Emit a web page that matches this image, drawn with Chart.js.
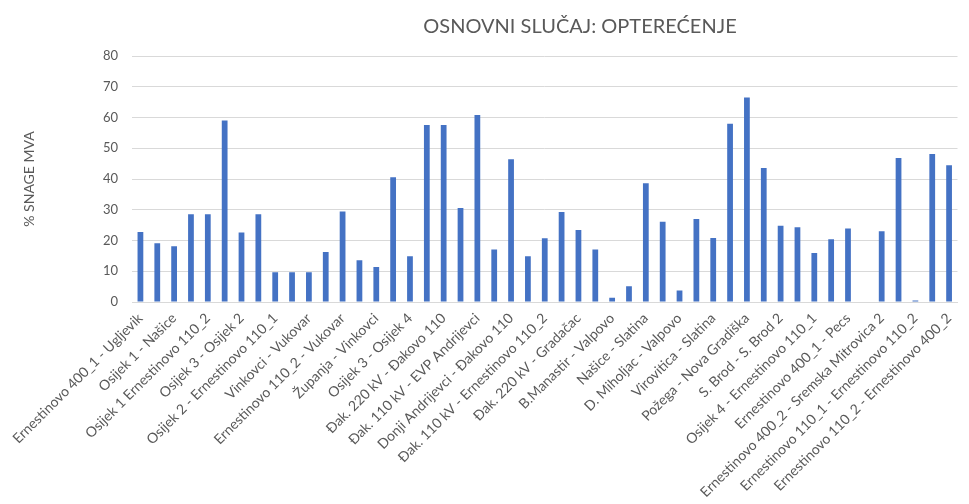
<!DOCTYPE html>
<html>
<head>
<meta charset="utf-8">
<script src="https://cdn.jsdelivr.net/npm/chart.js@4.4.1/dist/chart.umd.min.js"></script>
<style>
    html, body { margin: 0; padding: 0; background: #fff; }
    #wrap { position: relative; width: 969px; height: 504px; }
    #naslov {
        position: absolute; top: 12px; left: 380px; width: 400px;
        text-align: center; font-family: Lato, sans-serif; font-size: 20px;
        color: #595959; line-height: 26px;
    }
</style>
</head>
<body>
<div id="wrap">
    <div id="naslov">OSNOVNI SLUČAJ: OPTEREĆENJE</div>
    <canvas id="opterecenje" width="969" height="504"></canvas>
</div>
<script>
// nazivi vodova (samo svaki drugi je ispisan na osi)
const prikazaniNazivi = [
    'Ernestinovo 400_1 - Ugljevik', 'Osijek 1 - Našice', 'Osijek 1 Ernestinovo 110_2',
    'Osijek 3 - Osijek 2', 'Osijek 2 - Ernestinovo 110_1', 'Vinkovci - Vukovar',
    'Ernestinovo 110_2 - Vukovar', 'Županja - Vinkovci', 'Osijek 3 - Osijek 4',
    'Đak. 220 kV - Đakovo 110', 'Đak. 110 kV - EVP Andrijevci', 'Donji Andrijevci - Đakovo 110',
    'Đak. 110 kV - Ernestinovo 110_2', 'Đak. 220 kV - Gradačac', 'B.Manastir - Valpovo',
    'Našice - Slatina', 'D. Miholjac - Valpovo', 'Virovitica - Slatina',
    'Požega - Nova Gradiška', 'S. Brod - S. Brod 2', 'Osijek 4 - Ernestinovo 110_1',
    'Ernestinovo 400_1 - Pecs', 'Ernestinovo 400_2 - Sremska Mitrovica 2',
    'Ernestinovo 110_1 - Ernestinovo 110_2', 'Ernestinovo 110_2 - Ernestinovo 400_2'
];

// opterećenje u % snage (MVA)
const opterecenje = [
    22.8, 19.1, 18.1, 28.5, 28.5, 59.0, 22.6, 28.5, 9.7, 9.7,
    9.7, 16.3, 29.4, 13.6, 11.4, 40.6, 14.9, 57.6, 57.6, 30.6,
    60.8, 17.1, 46.4, 14.9, 20.7, 29.3, 23.4, 17.1, 1.4, 5.1,
    38.6, 26.1, 3.7, 27.0, 20.8, 58.0, 66.5, 43.6, 24.8, 24.3,
    15.9, 20.4, 23.9, 0, 23.0, 46.8, 0.5, 48.1, 44.5
];

const yTicks = [0, 10, 20, 30, 40, 50, 60, 70, 80];

const labels = opterecenje.map((v, i) => i % 2 === 0 ? prikazaniNazivi[i / 2] : '');

const sivo = '#595959';

new Chart(document.getElementById('opterecenje'), {
    type: 'bar',
    data: {
        labels: labels,
        datasets: [{
            label: '% snage MVA',
            data: opterecenje,
            backgroundColor: '#4472C4',
            borderColor: '#4472C4',
            borderWidth: 0,
            barPercentage: 0.9,
            categoryPercentage: 0.38
        }]
    },
    options: {
        responsive: false,
        animation: false,
        layout: { padding: { top: 56, right: 4, left: 0, bottom: 0 } },
        plugins: {
            legend: { display: false },
            tooltip: { enabled: false }
        },
        scales: {
            x: {
                grid: { display: false, drawTicks: false },
                border: { display: true, color: '#d9d9d9', width: 1 },
                ticks: {
                    autoSkip: false,
                    maxRotation: 45,
                    minRotation: 45,
                    padding: 8,
                    color: sivo,
                    font: { family: 'Lato', size: 14 }
                },
                afterFit: s => { s.height = 202; s.paddingLeft = 0; }
            },
            y: {
                min: yTicks[0],
                max: yTicks[yTicks.length - 1],
                afterBuildTicks: s => { s.ticks = yTicks.map(v => ({ value: v })); },
                grid: { color: '#d9d9d9', drawTicks: false },
                border: { display: false },
                ticks: {
                    padding: 14,
                    color: sivo,
                    font: { family: 'Lato', size: 13 }
                },
                title: {
                    display: true,
                    text: '% SNAGE MVA',
                    color: sivo,
                    font: { family: 'Lato', size: 14 },
                    padding: { top: 21, bottom: 0 }
                },
                afterFit: s => { s.width = 132; }
            }
        }
    }
});
</script>
</body>
</html>
